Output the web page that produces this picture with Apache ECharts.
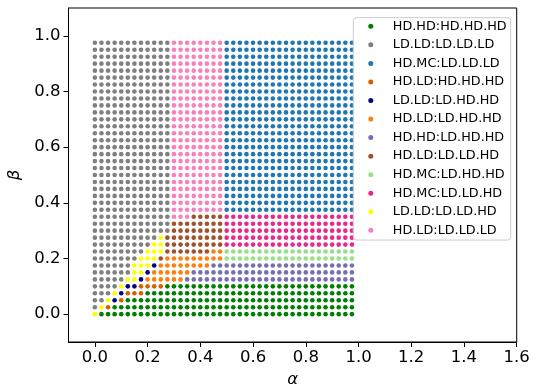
<!DOCTYPE html>
<html>
<head>
<meta charset="utf-8">
<script src="https://cdn.jsdelivr.net/npm/echarts@6/dist/echarts.min.js"></script>
<style>
html,body{margin:0;padding:0;background:#ffffff;}
#chart{width:536px;height:386px;}
</style>
</head>
<body>
<div id="chart"></div>
<script>
// ---- data ----
const alphaValues = [0, 0.025, 0.05, 0.075, 0.1, 0.125, 0.15, 0.175, 0.2, 0.225,
  0.25, 0.275, 0.3, 0.325, 0.35, 0.375, 0.4, 0.425, 0.45, 0.475,
  0.5, 0.525, 0.55, 0.575, 0.6, 0.625, 0.65, 0.675, 0.7, 0.725,
  0.75, 0.775, 0.8, 0.825, 0.85, 0.875, 0.9, 0.925, 0.95, 0.975];
const betaValues = [0, 0.025, 0.05, 0.075, 0.1, 0.125, 0.15, 0.175, 0.2, 0.225,
  0.25, 0.275, 0.3, 0.325, 0.35, 0.375, 0.4, 0.425, 0.45, 0.475,
  0.5, 0.525, 0.55, 0.575, 0.6, 0.625, 0.65, 0.675, 0.7, 0.725,
  0.75, 0.775, 0.8, 0.825, 0.85, 0.875, 0.9, 0.925, 0.95, 0.975];

const phaseNames = ['HD.HD:HD.HD.HD', 'LD.LD:LD.LD.LD', 'HD.MC:LD.LD.LD', 'HD.LD:HD.HD.HD',
  'LD.LD:LD.HD.HD', 'HD.LD:LD.HD.HD', 'HD.HD:LD.HD.HD', 'HD.LD:LD.LD.HD',
  'HD.MC:LD.HD.HD', 'HD.MC:LD.LD.HD', 'LD.LD:LD.LD.HD', 'HD.LD:LD.LD.LD'];
const phaseCodes = ['A', 'B', 'C', 'D', 'E', 'F', 'G', 'H', 'I', 'J', 'K', 'L'];
const phaseColors = ['#008000', '#808080', '#1f77b4', '#d95f02', '#000080', '#ff7f0e',
  '#7570b3', '#a0522d', '#98df8a', '#e7298a', '#ffff00', '#f781bf'];

// phase of each grid point, one row per beta value (bottom row first),
// written as runs along alpha: code + count
const phaseRows = [
  'K1 A39',            // beta 0.000
  'B1 K1 D1 A37',      // 0.025
  'B2 K1 E1 D1 A35',   // 0.050
  'B3 K1 E1 D3 A32',   // 0.075
  'B4 K1 E2 D4 A29',   // 0.100
  'B5 K2 E1 F6 G26',   // 0.125
  'B6 K2 E1 F6 G25',   // 0.150
  'B6 K3 E1 F8 G22',   // 0.175
  'B7 K3 H1 F9 I20',   // 0.200
  'B8 K3 H7 F2 I20',   // 0.225
  'B9 K2 H9 J20',      // 0.250
  'B10 K1 H9 J20',     // 0.275
  'B12 H8 J20',        // 0.300
  'B12 H8 J20',        // 0.325
  'B12 L3 H5 J20',     // 0.350
  'B12 L8 C20',        // 0.375
  'B12 L8 C20',        // 0.400
  'B12 L8 C20',        // 0.425
  'B12 L8 C20',        // 0.450
  'B12 L8 C20',        // 0.475
  'B12 L8 C20',        // 0.500
  'B12 L8 C20',        // 0.525
  'B12 L8 C20',        // 0.550
  'B12 L8 C20',        // 0.575
  'B12 L8 C20',        // 0.600
  'B12 L8 C20',        // 0.625
  'B12 L8 C20',        // 0.650
  'B12 L8 C20',        // 0.675
  'B12 L8 C20',        // 0.700
  'B12 L8 C20',        // 0.725
  'B12 L8 C20',        // 0.750
  'B12 L8 C20',        // 0.775
  'B12 L8 C20',        // 0.800
  'B12 L8 C20',        // 0.825
  'B12 L8 C20',        // 0.850
  'B12 L8 C20',        // 0.875
  'B12 L8 C20',        // 0.900
  'B12 L8 C20',        // 0.925
  'B12 L8 C20',        // 0.950
  'B12 L8 C20'         // 0.975
];

const xTickValues = [0.0, 0.2, 0.4, 0.6, 0.8, 1.0, 1.2, 1.4, 1.6];
const yTickValues = [0.0, 0.2, 0.4, 0.6, 0.8, 1.0];
const xAxisName = 'α';
const yAxisName = 'β';

// ---- build series from the data ----
const pointsByCode = {};
phaseCodes.forEach(c => { pointsByCode[c] = []; });
phaseRows.forEach((row, j) => {
  let i = 0;
  row.trim().split(/\s+/).forEach(run => {
    const code = run[0];
    const count = parseInt(run.slice(1), 10);
    for (let k = 0; k < count; k++) {
      if (i < alphaValues.length) {
        pointsByCode[code].push([alphaValues[i], betaValues[j]]);
      }
      i++;
    }
  });
});

const FONT = "'DejaVu Sans', 'Liberation Sans', sans-serif";

const series = phaseNames.map((name, idx) => ({
  name: name,
  type: 'scatter',
  data: pointsByCode[phaseCodes[idx]],
  symbol: 'circle',
  symbolSize: 4.6,
  itemStyle: { color: phaseColors[idx], opacity: 1 },
  emphasis: { disabled: true },
  silent: true,
  animation: false
}));

const chart = echarts.init(document.getElementById('chart'), null, { renderer: 'canvas' });
chart.setOption({
  animation: false,
  backgroundColor: '#ffffff',
  grid: {
    left: 68.5, right: 19.3, top: 8, bottom: 44,
    show: true, borderColor: '#000000', borderWidth: 1,
    backgroundColor: 'transparent',
    containLabel: false,
    outerBoundsMode: 'none'
  },
  xAxis: {
    type: 'value', min: -0.1, max: 1.6,
    name: xAxisName, nameLocation: 'middle', nameGap: 27.5,
    nameTextStyle: { fontStyle: 'italic', fontSize: 16.5, fontFamily: FONT, color: '#000' },
    axisLine: { show: true, onZero: false, lineStyle: { color: '#000', width: 1 } },
    axisTick: { show: true, inside: false, length: 5, customValues: xTickValues, lineStyle: { color: '#000', width: 1 } },
    axisLabel: { customValues: xTickValues, formatter: v => Number(v).toFixed(1), margin: 7, fontSize: 16.5, fontFamily: FONT, color: '#000' },
    splitLine: { show: false }
  },
  yAxis: {
    type: 'value', min: -0.1, max: 1.1,
    name: yAxisName, nameLocation: 'middle', nameGap: 42, nameRotate: 90,
    nameTextStyle: { fontStyle: 'italic', fontSize: 16.5, fontFamily: FONT, color: '#000' },
    axisLine: { show: true, onZero: false, lineStyle: { color: '#000', width: 1 } },
    axisTick: { show: true, inside: false, length: 5, customValues: yTickValues, lineStyle: { color: '#000', width: 1 } },
    axisLabel: { customValues: yTickValues, formatter: v => Number(v).toFixed(1), margin: 8, fontSize: 16.5, fontFamily: FONT, color: '#000' },
    splitLine: { show: false }
  },
  legend: {
    data: phaseNames,
    orient: 'vertical',
    left: 353.3, top: 17.7,
    icon: 'circle',
    itemWidth: 34, itemHeight: 5,
    itemGap: 4.55,
    padding: [1.6, 4, 2.7, 15],
    backgroundColor: 'rgba(255,255,255,0.8)',
    borderColor: '#cccccc', borderWidth: 1, borderRadius: 3,
    textStyle: { fontSize: 12.8, fontFamily: FONT, color: '#000', lineHeight: 14 },
    selectedMode: false
  },
  series: series
});
</script>
</body>
</html>
